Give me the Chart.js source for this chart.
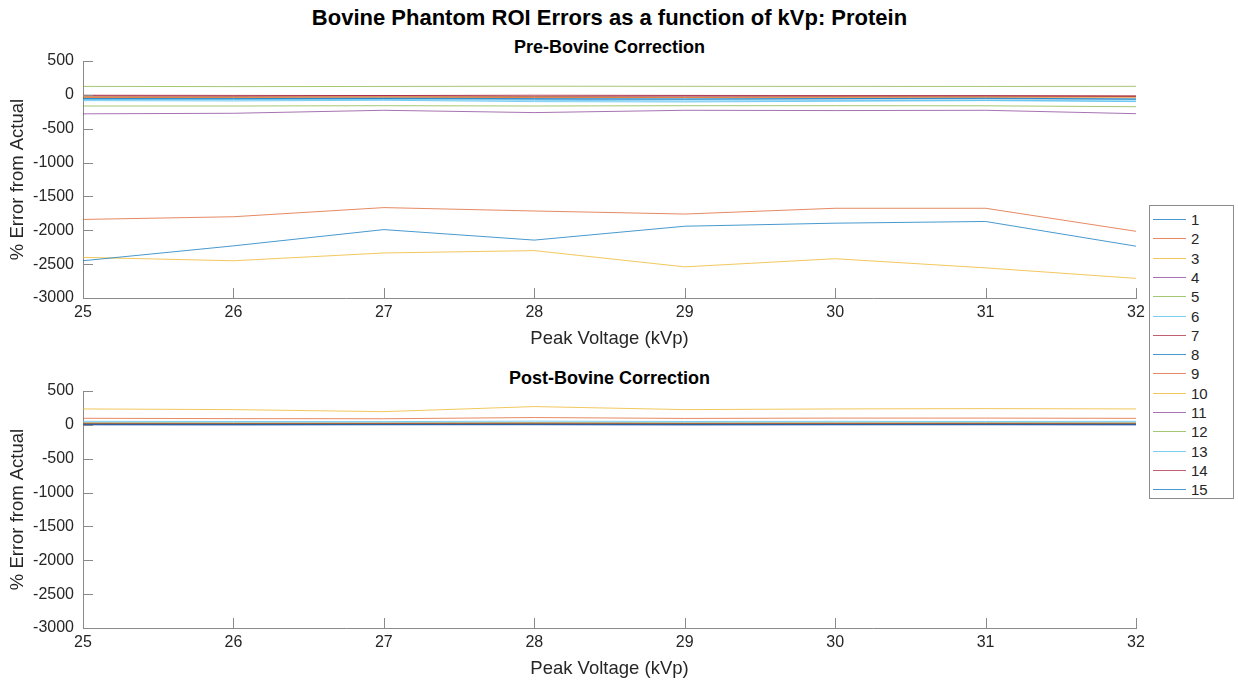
<!DOCTYPE html>
<html>
<head>
<meta charset="utf-8">
<script src="https://cdn.jsdelivr.net/npm/chart.js@4/dist/chart.umd.min.js"></script>
<style>
  html, body { margin:0; padding:0; background:#fff; }
  body { width:1238px; height:681px; position:relative; overflow:hidden; font-family:"Liberation Sans", Arial, Helvetica, sans-serif; color:#000; }
  canvas { position:absolute; left:0; }
  .ttl { position:absolute; left:0; width:1219px; text-align:center; font-weight:bold; white-space:nowrap; }
  #legend { position:absolute; left:1149px; top:205px; width:83px; height:292px; border:1px solid #8c8c8c; background:#fff; box-sizing:content-box; }
  .row { position:absolute; left:0; height:19px; width:83px; font-size:15px; color:#262626; }
  .row .ln { position:absolute; left:3px; width:33px; top:9px; height:0; border-top:1px solid; }
  .row .tx { position:absolute; left:41px; top:1px; line-height:17px; }
</style>
</head>
<body>
<div class="ttl" style="top:5px;font-size:22px;line-height:26px;">Bovine Phantom ROI Errors as a function of kVp: Protein</div>
<div class="ttl" style="top:37px;font-size:18px;line-height:21px;">Pre-Bovine Correction</div>
<div class="ttl" style="top:368px;font-size:18px;line-height:21px;">Post-Bovine Correction</div>
<canvas id="c1" width="1148" height="350" style="top:0px;"></canvas>
<canvas id="c2" width="1148" height="350" style="top:330px;"></canvas>
<div id="legend"></div>
<script>
// ---- data ----
const kvp = [25, 26, 27, 28, 29, 30, 31, 32];
const seriesNames = ['1','2','3','4','5','6','7','8','9','10','11','12','13','14','15'];
const yTicks = [500, 0, -500, -1000, -1500, -2000, -2500, -3000];

// Pre-Bovine Correction (% error)
const pre1  = [-2450, -2230, -1990, -2145, -1940, -1895, -1870, -2235];
const pre2  = [-1840, -1800, -1665, -1715, -1760, -1675, -1675, -2015];
const pre3  = [-2400, -2450, -2335, -2300, -2540, -2420, -2555, -2710];
const pre4  = [-280, -272, -228, -262, -228, -232, -228, -278];
const pre5  = [125, 122, 124, 128, 126, 125, 124, 126];
const pre6  = [-70, -72, -70, -80, -90, -85, -80, -90];
const pre7  = [-5, -8, -10, -5, -8, -10, -12, -15];
const pre8  = [-55, -55, -50, -55, -60, -55, -50, -60];
const pre9  = [-40, -38, -35, -40, -38, -35, -35, -30];
const pre10 = [-30, -32, -28, -30, -35, -32, -30, -35];
const pre11 = [-20, -22, -18, -25, -20, -22, -20, -25];
const pre12 = [-165, -165, -160, -165, -160, -160, -162, -175];
const pre13 = [-85, -90, -80, -100, -105, -95, -85, -100];
const pre14 = [-15, -18, -12, -20, -15, -18, -15, -20];
const pre15 = [-60, -62, -55, -65, -65, -60, -58, -65];

// Post-Bovine Correction (% error)
const post1  = [8, 7, 6, 8, 7, 6, 7, 8];
const post2  = [97, 92, 90, 108, 95, 100, 100, 96];
const post3  = [235, 225, 195, 270, 225, 235, 240, 235];
const post4  = [5, 4, 6, 5, 4, 5, 6, 5];
const post5  = [10, 9, 8, 10, 9, 8, 9, 10];
const post6  = [52, 50, 48, 55, 50, 52, 50, 52];
const post7  = [14, 12, 13, 15, 12, 13, 14, 12];
const post8  = [4, 3, 5, 4, 3, 4, 5, 4];
const post9  = [22, 20, 21, 24, 20, 22, 21, 22];
const post10 = [28, 26, 25, 30, 26, 27, 28, 27];
const post11 = [3, 2, 3, 4, 2, 3, 3, 2];
const post12 = [7, 6, 7, 8, 6, 7, 6, 7];
const post13 = [32, 30, 30, 34, 31, 30, 32, 31];
const post14 = [11, 10, 12, 11, 10, 11, 12, 10];
const post15 = [2, 1, 2, 3, 1, 2, 2, 1];

const preSeries  = [pre1, pre2, pre3, pre4, pre5, pre6, pre7, pre8, pre9, pre10, pre11, pre12, pre13, pre14, pre15];
const postSeries = [post1, post2, post3, post4, post5, post6, post7, post8, post9, post10, post11, post12, post13, post14, post15];

const palette = ['rgba(0,114,189,0.72)', 'rgba(217,83,25,0.68)', 'rgba(237,177,32,0.72)', 'rgba(126,47,142,0.68)',
                 'rgba(119,172,48,0.68)', 'rgba(77,190,238,0.75)', 'rgba(162,20,47,0.68)'];
const colorOf = i => palette[i % palette.length];

const FONT = '"Liberation Sans", Arial, Helvetica, sans-serif';
const AXIS = '#8a8a8a';
const TXT = '#262626';

const inwardTicks = {
  id: 'inwardTicks',
  afterDraw(chart) {
    const ctx = chart.ctx;
    const {left, bottom} = chart.chartArea;
    const xs = chart.scales.x, ys = chart.scales.y;
    ctx.save();
    ctx.strokeStyle = AXIS;
    ctx.lineWidth = 1;
    ctx.beginPath();
    ys.ticks.forEach(t => {
      const py = Math.round(ys.getPixelForValue(t.value)) + 0.5;
      ctx.moveTo(left, py); ctx.lineTo(left + 10, py);
    });
    xs.ticks.forEach(t => {
      const px = Math.round(xs.getPixelForValue(t.value)) + 0.5;
      ctx.moveTo(px, bottom); ctx.lineTo(px, bottom - 10);
    });
    ctx.stroke();
    ctx.restore();
  }
};

function makeChart(id, seriesList) {
  const datasets = seriesList.map((s, i) => ({
    label: seriesNames[i],
    data: kvp.map((x, j) => ({x: x, y: s[j]})),
    borderColor: colorOf(i),
    backgroundColor: colorOf(i),
    borderWidth: 1,
    pointRadius: 0,
    tension: 0,
    fill: false
  }));
  return new Chart(document.getElementById(id), {
    type: 'line',
    data: {datasets},
    plugins: [inwardTicks],
    options: {
      responsive: false,
      animation: false,
      events: [],
      layout: {padding: {top: 61, right: 12, left: 0, bottom: 0}},
      plugins: {legend: {display: false}, tooltip: {enabled: false}, title: {display: false}},
      scales: {
        x: {
          type: 'linear', min: 25, max: 32,
          afterFit(s) { s.height = 52; s.paddingLeft = 0; s.paddingRight = 0; },
          afterBuildTicks(s) { s.ticks = kvp.map(v => ({value: v})); },
          grid: {display: false, drawTicks: false},
          border: {display: true, color: AXIS, width: 1},
          ticks: {color: TXT, font: {family: FONT, size: 16}, padding: 5, maxRotation: 0, autoSkip: false,
                  callback: v => String(v)},
          title: {display: true, text: 'Peak Voltage (kVp)', color: TXT, font: {family: FONT, size: 18.5}, padding: {top: 0, bottom: 0}}
        },
        y: {
          type: 'linear', min: -3000, max: 500,
          afterFit(s) { s.width = 83; },
          afterBuildTicks(s) { s.ticks = yTicks.map(v => ({value: v})); },
          grid: {display: false, drawTicks: false},
          border: {display: true, color: AXIS, width: 1},
          ticks: {color: TXT, font: {family: FONT, size: 16}, padding: 9, autoSkip: false,
                  callback: v => String(v)},
          title: {display: true, text: '% Error from Actual', color: TXT, font: {family: FONT, size: 18.5}, padding: {top: 7, bottom: 0}}
        }
      }
    }
  });
}

makeChart('c1', preSeries);
makeChart('c2', postSeries);

// legend
const lg = document.getElementById('legend');
seriesNames.forEach((n, i) => {
  const r = document.createElement('div');
  r.className = 'row';
  r.style.top = Math.round(4 + i * 19.3) + 'px';
  r.innerHTML = '<div class="ln" style="border-color:' + colorOf(i) + '"></div><div class="tx">' + n + '</div>';
  lg.appendChild(r);
});
</script>
</body>
</html>
